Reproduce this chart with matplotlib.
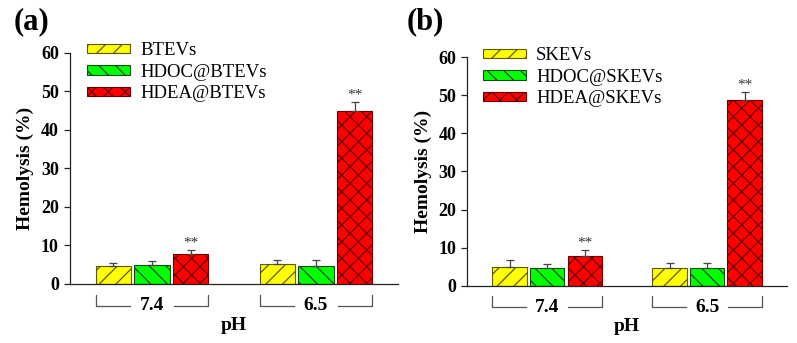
import numpy as np
import matplotlib
matplotlib.use("Agg")
import matplotlib.pyplot as plt

plt.rcParams['font.family'] = ['Liberation Serif', 'DejaVu Serif']
plt.rcParams['hatch.linewidth'] = 0.9

# data
groups = ["7.4", "6.5"]
series_a = ["BTEVs", "HDOC@BTEVs", "HDEA@BTEVs"]
series_b = ["SKEVs", "HDOC@SKEVs", "HDEA@SKEVs"]
vals_a = [[4.6, 5.2], [4.9, 4.7], [7.7, 44.8]]
errs_a = [[0.9, 1.0], [1.1, 1.6], [1.1, 2.3]]
vals_b = [[4.9, 4.6], [4.55, 4.6], [7.9, 48.9]]
errs_b = [[1.8, 1.4], [1.15, 1.3], [1.5, 2.0]]
stars = [[None, None], [None, None], ["**", "**"]]

faces = ["#ffff00", "#00ff00", "#ff0000"]
edges = ["#5a5a00", "#1a4a1a", "#6a0000"]
hatches = ["//", "\\\\", "xx"]

W, H = 797, 343
fig = plt.figure(figsize=(W / 100, H / 100), dpi=100)


def panel(rect, names, vals, errs, tag, tag_xy, leg_anchor):
    ax = fig.add_axes(rect)
    x = np.arange(len(groups))
    step = 0.235
    width = 0.215
    for i, name in enumerate(names):
        pos = x + (i - 1) * step
        ax.bar(pos, vals[i], width, color=faces[i], edgecolor=edges[i],
               hatch=hatches[i], linewidth=0.8, label=name, zorder=2)
        ax.errorbar(pos, vals[i], yerr=[np.zeros(len(groups)), errs[i]],
                    fmt="none", ecolor="#444444", elinewidth=0.9,
                    capsize=3, capthick=0.9, zorder=3)
        for j in range(len(groups)):
            if stars[i][j]:
                ax.text(pos[j], vals[i][j] + errs[i][j] + 0.1, stars[i][j],
                        ha="center", va="bottom", fontsize=11,
                        color="#333333")

    ax.set_xlim(-0.5, 1.5)
    ax.set_ylim(0, 60)
    ax.set_yticks(range(0, 61, 10))
    ax.set_xticks([])
    for s in ["top", "right"]:
        ax.spines[s].set_visible(False)
    for s in ["left", "bottom"]:
        ax.spines[s].set_color("#222222")
        ax.spines[s].set_linewidth(0.9)
    ax.tick_params(axis="y", direction="out", length=4, width=0.9,
                   labelsize=13, colors="#222222", pad=4)
    for lab in ax.get_yticklabels():
        lab.set_fontweight("bold")
        lab.set_color("black")

    ax.set_ylabel("Hemolysis (%)", fontsize=14, fontweight="bold")
    ax.yaxis.set_label_coords(-0.11, 0.5)

    # group brackets under the axis
    tr = ax.get_xaxis_transform()
    half = step + width / 2
    gap = 0.133
    for g, lab in zip(x, groups):
        ax.plot([g - half, g - half, g - gap], [-0.047, -0.094, -0.094],
                transform=tr, color="#555555", lw=0.9, clip_on=False)
        ax.plot([g + gap, g + half, g + half], [-0.094, -0.094, -0.047],
                transform=tr, color="#555555", lw=0.9, clip_on=False)
        ax.text(g, -0.094, lab, transform=tr, ha="center", va="center",
                fontsize=14, fontweight="bold")
    ax.text(0.5, -0.18, "pH", transform=tr, ha="center", va="center",
            fontsize=14, fontweight="bold")

    ax.legend(loc="upper left", bbox_to_anchor=leg_anchor, frameon=False,
              borderpad=0, borderaxespad=0, handlelength=2.3,
              handleheight=0.38, handletextpad=0.55, labelspacing=0.25,
              prop={"size": 13.5})

    fig.text(tag_xy[0] / W, 1 - tag_xy[1] / H, tag, fontsize=22,
             fontweight="bold", ha="left", va="center")
    return ax


panel([70 / W, 1 - 284 / H, 328 / W, 231.5 / H], series_a, vals_a, errs_a,
      "(a)", (14, 22), (0.052, 1.045))
panel([467.3 / W, 1 - 285.7 / H, 319.7 / W, 228.4 / H], series_b, vals_b,
      errs_b, "(b)", (407, 22), (0.048, 1.045))

fig.savefig("out.png", dpi=100)
